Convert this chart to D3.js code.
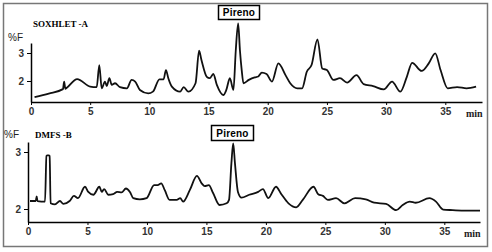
<!DOCTYPE html>
<html>
<head>
<meta charset="utf-8">
<script src="https://cdn.jsdelivr.net/npm/d3@7"></script>
<style>
  body { margin: 0; background: #fff; }
  .tick text { font-family: "Liberation Sans", Arial, sans-serif; font-size: 10px; font-weight: bold; fill: #333; }
  .tick line, .domain { stroke: #000; }
</style>
</head>
<body>
<div id="chart"></div>
<script>
// retention time (min) and fluorescence (%F)
var timeA = [0.3, 1.5, 2.7, 2.8, 2.9, 3.0, 3.9, 5.0, 5.55, 5.77, 5.97, 6.25, 6.4, 6.62, 6.82, 7.1, 7.52, 8.1, 8.5, 8.8, 9.2, 9.9, 10.3, 10.85, 11.2, 11.4, 11.6, 11.9, 12.6, 12.9, 13.3, 13.9, 14.2, 14.4, 14.85, 15.1, 15.4, 15.7, 16.25, 16.5, 16.8, 17.1, 17.3, 17.5, 17.65, 17.8, 17.95, 18.4, 18.9, 19.2, 19.5, 19.9, 20.35, 20.9, 21.5, 21.9, 22.5, 22.9, 23.3, 23.7, 24.2, 24.6, 25.0, 25.55, 26.1, 26.7, 27.5, 28.1, 28.9, 29.8, 30.5, 31.2, 31.75, 32.2, 33.0, 33.6, 34.15, 34.6, 35.2, 36.0, 36.8, 37.6];
var fluoA = [1.42, 1.55, 1.71, 1.98, 1.72, 1.75, 2.07, 1.80, 1.78, 2.57, 1.74, 1.98, 1.82, 2.10, 1.86, 1.92, 1.78, 1.74, 2.04, 1.98, 1.68, 1.56, 1.62, 2.06, 2.06, 2.39, 2.10, 1.80, 1.62, 1.78, 1.62, 1.92, 3.08, 2.75, 2.15, 2.10, 2.25, 1.86, 1.50, 1.68, 2.10, 1.68, 3.10, 4.06, 3.10, 2.39, 1.92, 2.04, 2.13, 2.16, 2.30, 2.25, 1.98, 2.63, 2.21, 1.92, 1.74, 1.74, 2.33, 2.57, 3.49, 2.45, 2.39, 2.04, 2.10, 1.94, 2.21, 1.89, 1.82, 1.70, 1.98, 1.62, 2.15, 2.65, 2.36, 2.63, 2.99, 2.39, 1.74, 1.78, 1.74, 1.80];

var timeB = [0.17, 0.65, 0.73, 0.8, 1.43, 1.55, 1.62, 1.75, 1.82, 1.9, 2.27, 2.69, 2.97, 3.5, 3.86, 4.2, 4.79, 5.07, 5.5, 6.0, 6.2, 6.4, 6.75, 7.16, 7.5, 7.87, 8.23, 8.57, 8.85, 9.4, 9.97, 10.6, 10.9, 11.2, 11.5, 11.9, 12.5, 12.8, 13.04, 13.6, 14.2, 14.6, 14.86, 15.2, 15.56, 16.1, 16.7, 16.9, 17.1, 17.25, 17.4, 17.65, 17.95, 18.6, 19.35, 19.75, 20.2, 20.85, 21.3, 21.9, 22.55, 23.1, 24.0, 24.4, 24.8, 25.2, 25.9, 26.6, 27.5, 28.4, 29.1, 30.1, 30.95, 31.5, 32.1, 32.6, 33.75, 34.3, 34.9, 35.7, 36.8, 38.0];
var fluoB = [2.14, 2.14, 2.22, 2.14, 2.13, 2.93, 2.94, 2.94, 2.93, 2.10, 2.08, 2.14, 2.09, 2.14, 2.23, 2.19, 2.39, 2.30, 2.25, 2.39, 2.30, 2.35, 2.25, 2.26, 2.30, 2.29, 2.36, 2.30, 2.19, 2.17, 2.19, 2.42, 2.42, 2.45, 2.33, 2.16, 2.16, 2.19, 2.13, 2.33, 2.58, 2.45, 2.40, 2.42, 2.28, 2.07, 2.10, 2.16, 2.80, 3.15, 2.80, 2.30, 2.20, 2.25, 2.30, 2.35, 2.19, 2.39, 2.26, 2.10, 2.03, 2.16, 2.39, 2.26, 2.23, 2.16, 2.19, 2.10, 2.19, 2.17, 2.11, 2.09, 1.98, 2.07, 2.13, 2.11, 2.19, 2.13, 1.99, 1.98, 1.97, 1.97];

var xTicks = [0, 5, 10, 15, 20, 25, 30, 35];
var yTicks = [2, 3];

var width = 492, height = 252;

var svg = d3.select("#chart")
  .append("svg")
    .attr("width", width)
    .attr("height", height);

svg.append("rect")
  .attr("x", 3.5).attr("y", 3.5)
  .attr("width", 484).attr("height", 243)
  .attr("fill", "#fff")
  .attr("stroke", "#777")
  .attr("stroke-width", 1.5);

var panels = [
  {title: "SOXHLET -A", time: timeA, fluo: fluoA,
   x0: 31, x1: 482, xmax: 38.1, yBottom: 102, yTop: 43, y2: 81, y3: 53,
   titleX: 33, titleY: 27, pfX: 8, pfY: 41, box: [218, 5, 41, 14]},
  {title: "DMFS -B", time: timeB, fluo: fluoB,
   x0: 28, x1: 480, xmax: 38.0, yBottom: 222, yTop: 142, y2: 209, y3: 152,
   titleX: 35, titleY: 138, pfX: 4, pfY: 138, box: [211, 125, 42, 15]}
];

panels.forEach(function(p) {
  var x = d3.scaleLinear()
    .domain([0, p.xmax])
    .range([p.x0, p.x1]);

  // y axis: 2 and 3 are at known pixel rows
  var unit = p.y2 - p.y3;
  var y = d3.scaleLinear()
    .domain([2 - (p.yBottom - p.y2) / unit, 3 + (p.y3 - p.yTop) / unit])
    .range([p.yBottom, p.yTop]);

  svg.append("g")
    .attr("transform", "translate(0," + p.yBottom + ")")
    .call(d3.axisBottom(x).tickValues(xTicks).tickSize(3).tickSizeOuter(0).tickPadding(3))
    .call(function(g) { g.select(".domain").attr("stroke-width", 1.5); });

  svg.append("g")
    .attr("transform", "translate(" + p.x0 + ",0)")
    .call(d3.axisLeft(y).tickValues(yTicks).tickFormat(d3.format("d")).tickSize(4).tickSizeOuter(0).tickPadding(3))
    .call(function(g) { g.select(".domain").attr("stroke-width", 1.5); });

  svg.append("text")
    .attr("x", p.x1 - 16).attr("y", p.yBottom + 15)
    .attr("font-family", "Liberation Serif, serif")
    .attr("font-weight", "bold")
    .attr("font-size", 10)
    .attr("fill", "#222")
    .text("min");

  var line = d3.line()
    .x(function(d, i) { return x(p.time[i]); })
    .y(function(d) { return y(d); })
    .curve(d3.curveMonotoneX);

  svg.append("path")
    .datum(p.fluo)
    .attr("d", line)
    .attr("fill", "none")
    .attr("stroke", "#111")
    .attr("stroke-width", 1.8)
    .attr("stroke-linejoin", "round");

  svg.append("text")
    .attr("x", p.titleX).attr("y", p.titleY)
    .attr("font-family", "Liberation Serif, serif")
    .attr("font-weight", "bold")
    .attr("font-size", 9)
    .text(p.title);

  svg.append("text")
    .attr("x", p.pfX).attr("y", p.pfY)
    .attr("font-family", "Liberation Sans, sans-serif")
    .attr("font-size", 10)
    .attr("fill", "#222")
    .text("%F");

  svg.append("rect")
    .attr("x", p.box[0] + 0.5).attr("y", p.box[1] + 0.5)
    .attr("width", p.box[2]).attr("height", p.box[3])
    .attr("fill", "#fff")
    .attr("stroke", "#000")
    .attr("stroke-width", 1.5);

  svg.append("text")
    .attr("x", p.box[0] + p.box[2] / 2 + 0.5).attr("y", p.box[1] + p.box[3] - 3)
    .attr("text-anchor", "middle")
    .attr("font-family", "Liberation Sans, sans-serif")
    .attr("font-size", 10)
    .attr("font-weight", "bold")
    .attr("letter-spacing", 0.2)
    .text("Pireno");
});
</script>
</body>
</html>
